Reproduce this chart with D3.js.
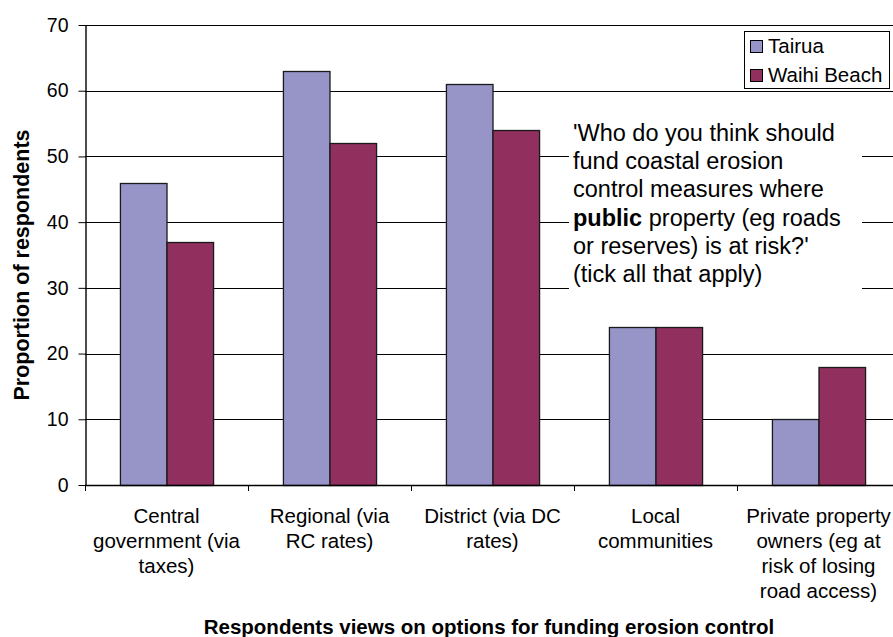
<!DOCTYPE html>
<html>
<head>
<meta charset="utf-8">
<script src="https://cdn.jsdelivr.net/npm/d3@7"></script>
<style>
  html, body { margin: 0; padding: 0; background: #fff; }
  svg { display: block; font-family: "Liberation Sans", Arial, sans-serif; }
</style>
</head>
<body>
<svg id="chart" width="893" height="637"></svg>
<script>
// Funding options (category labels, one array per wrapped line)
const categories = [
  ["Central", "government (via", "taxes)"],
  ["Regional (via", "RC rates)"],
  ["District (via DC", "rates)"],
  ["Local", "communities"],
  ["Private property", "owners (eg at", "risk of losing", "road access)"]
];
const seriesNames = ["Tairua", "Waihi Beach"];
const tairua = [46, 63, 61, 24, 10];
const waihiBeach = [37, 52, 54, 24, 18];
const yTicks = [0, 10, 20, 30, 40, 50, 60, 70];
const colors = ["#9794c8", "#912f5e"];

const svg = d3.select("#chart");
const margin = { left: 85, right: 900, top: 25, bottom: 485 };

const x0 = d3.scaleBand()
  .domain(d3.range(categories.length))
  .range([margin.left, margin.right])
  .padding(0);
const x1 = d3.scaleBand()
  .domain(seriesNames)
  .range([0, x0.bandwidth()])
  .paddingInner(0)
  .paddingOuter(0.75);
const y = d3.scaleLinear().domain([0, 70]).range([margin.bottom, margin.top]);

// Gridlines
svg.append("g")
  .selectAll("line")
  .data(yTicks.filter(d => d > 0))
  .join("line")
  .attr("x1", margin.left).attr("x2", margin.right)
  .attr("y1", d => Math.round(y(d)) + 0.5).attr("y2", d => Math.round(y(d)) + 0.5)
  .attr("stroke", "#000").attr("stroke-width", 1);

// Bars
const rows = categories.map((c, i) => ({ i, values: [tairua[i], waihiBeach[i]] }));
svg.append("g")
  .selectAll("g")
  .data(rows)
  .join("g")
  .attr("transform", d => `translate(${x0(d.i)},0)`)
  .selectAll("rect")
  .data(d => d.values.map((v, k) => ({ k, v })))
  .join("rect")
  .attr("x", d => x1(seriesNames[d.k]) + 0.5)
  .attr("y", d => Math.round(y(d.v)) + 0.5)
  .attr("width", x1.bandwidth())
  .attr("height", d => Math.round(y(0)) - Math.round(y(d.v)))
  .attr("fill", d => colors[d.k])
  .attr("stroke", "#1a1a1a")
  .attr("stroke-width", 1.3);

// Y axis
const yAxis = svg.append("g")
  .attr("transform", `translate(${margin.left + 0.5},0)`)
  .call(d3.axisLeft(y).tickValues(yTicks).tickSize(7).tickPadding(10).tickSizeOuter(0));
yAxis.select(".domain").attr("stroke", "#000").attr("stroke-width", 1.4);
yAxis.selectAll(".tick line").attr("stroke", "#000");
yAxis.selectAll("text")
  .attr("font-size", 19.5).attr("fill", "#000")
  .attr("font-family", "Liberation Sans, Arial, sans-serif");

// X axis: boundary ticks between categories
const xBoundaries = d3.range(categories.length).map(i => x0(i));
svg.append("line")
  .attr("x1", margin.left).attr("x2", margin.right)
  .attr("y1", Math.round(y(0)) + 0.5).attr("y2", Math.round(y(0)) + 0.5)
  .attr("stroke", "#000").attr("stroke-width", 1.4);
svg.append("g")
  .selectAll("line")
  .data(xBoundaries)
  .join("line")
  .attr("x1", d => Math.round(d) + 0.5).attr("x2", d => Math.round(d) + 0.5)
  .attr("y1", y(0)).attr("y2", y(0) + 6)
  .attr("stroke", "#000");

// Category labels
svg.append("g")
  .selectAll("text")
  .data(categories)
  .join("text")
  .attr("x", (d, i) => x0(i) + x0.bandwidth() / 2)
  .attr("y", 523)
  .attr("text-anchor", "middle")
  .attr("font-size", 20.5)
  .attr("fill", "#000")
  .selectAll("tspan")
  .data(d => d)
  .join("tspan")
  .attr("x", function () { return this.parentNode.getAttribute("x"); })
  .attr("dy", (d, j) => j === 0 ? 0 : 25)
  .text(d => d);

// Axis titles
svg.append("text")
  .attr("transform", "translate(29,265) rotate(-90)")
  .attr("text-anchor", "middle")
  .attr("font-size", 21.5).attr("font-weight", "bold")
  .text("Proportion of respondents");
svg.append("text")
  .attr("x", 489).attr("y", 634)
  .attr("text-anchor", "middle")
  .attr("font-size", 20.5).attr("font-weight", "bold")
  .text("Respondents views on options for funding erosion control");

// Question annotation with white backing
const note = svg.append("g");
note.append("rect")
  .attr("x", 569).attr("y", 116).attr("width", 293).attr("height", 182)
  .attr("fill", "#fff");
const noteLines = [
  [["'Who do you think should", false]],
  [["fund coastal erosion", false]],
  [["control measures where", false]],
  [["public", true], [" property (eg roads", false]],
  [["or reserves) is at risk?'", false]],
  [["(tick all that apply)", false]]
];
note.selectAll("text")
  .data(noteLines)
  .join("text")
  .attr("x", 573)
  .attr("y", (d, i) => 141 + i * 28.2)
  .attr("font-size", 23.5)
  .attr("fill", "#000")
  .selectAll("tspan")
  .data(d => d)
  .join("tspan")
  .attr("font-weight", d => d[1] ? "bold" : "normal")
  .style("white-space", "pre")
  .text(d => d[0]);

// Legend
const legend = svg.append("g");
legend.append("rect")
  .attr("x", 744.5).attr("y", 31.5).attr("width", 145).attr("height", 57)
  .attr("fill", "#fff").attr("stroke", "#000").attr("stroke-width", 1);
const li = legend.selectAll("g.item")
  .data(seriesNames)
  .join("g")
  .attr("class", "item")
  .attr("transform", (d, i) => `translate(750,${40 + i * 29})`);
li.append("rect")
  .attr("x", 0.5).attr("y", 0.5).attr("width", 12).attr("height", 12)
  .attr("fill", (d, i) => colors[i]).attr("stroke", "#000");
li.append("text")
  .attr("x", 18).attr("y", 13)
  .attr("font-size", 20.5).attr("fill", "#000")
  .text(d => d);
</script>
</body>
</html>
